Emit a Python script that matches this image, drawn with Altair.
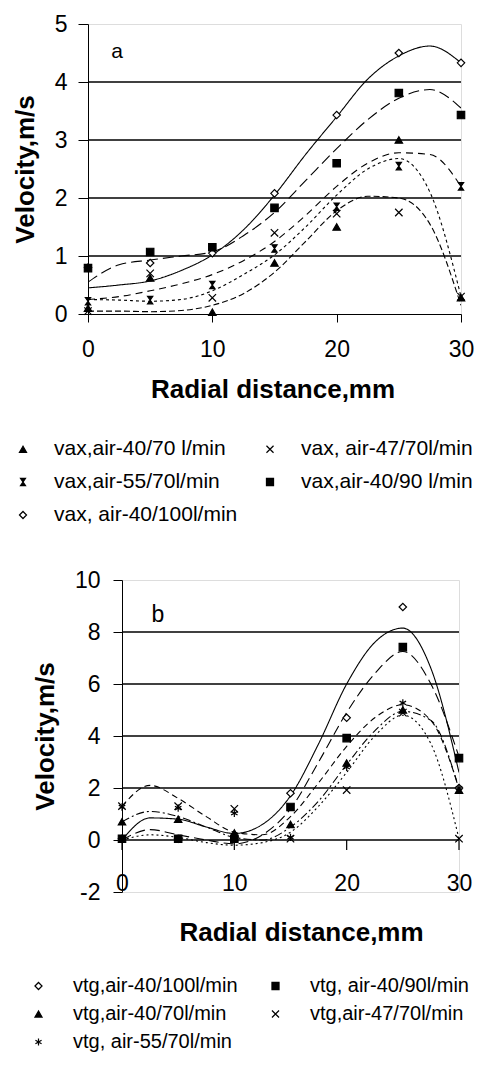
import altair as alt
import pandas as pd

# ---------------- data ----------------
x_pts = [0, 5, 10, 15, 20, 25, 30]
x_fit = [0, 2.5, 5, 7.5, 10, 12.5, 15, 17.5, 20, 22.5, 25, 27.5, 30]

# panel a (axial velocity); legend order is column-major (2 columns)
names_a = ["vax,air-40/70 l/min", "vax,air-55/70l/min", "vax, air-40/100l/min",
           "vax, air-47/70l/min", "vax,air-40/90 l/min"]
a_40_70 = [0.10, 0.62, 0.03, 0.88, 1.50, 3.00, 0.28]
a_55_70 = [0.22, 0.24, 0.50, 1.13, 1.85, 2.55, 2.20]
a_40_100 = [0.80, 0.88, 1.05, 2.08, 3.43, 4.50, 4.33]
a_47_70 = [0.05, 0.70, 0.28, 1.40, 1.73, 1.75, 0.30]
a_40_90 = [0.79, 1.07, 1.15, 1.83, 2.60, 3.81, 3.43]

fa_40_70 = [0.25, 0.24, 0.22, 0.25, 0.40, 0.68, 1.02, 1.50, 2.05, 2.50, 2.68, 2.10, 0.30]
fa_55_70 = [0.25, 0.30, 0.40, 0.52, 0.68, 0.92, 1.25, 1.70, 2.20, 2.60, 2.78, 2.75, 2.20]
fa_40_100 = [0.45, 0.50, 0.57, 0.75, 1.02, 1.45, 2.05, 2.75, 3.40, 4.05, 4.45, 4.62, 4.33]
fa_47_70 = [0.05, 0.05, 0.04, 0.06, 0.15, 0.35, 0.72, 1.25, 1.78, 2.03, 2.00, 1.55, 0.15]
fa_40_90 = [0.55, 0.85, 0.93, 1.00, 1.07, 1.35, 1.75, 2.30, 2.85, 3.35, 3.72, 3.87, 3.55]

# panel b (tangential velocity); legend order is column-major (2 columns)
names_b = ["vtg,air-40/100l/min", "vtg,air-40/70l/min", "vtg, air-55/70l/min",
           "vtg, air-40/90l/min", "vtg,air-47/70l/min"]
b_40_100 = [0.05, 0.05, 0.10, 1.80, 4.70, 8.96, 2.00]
b_40_70 = [0.70, 0.80, 0.27, 0.60, 2.96, 5.00, 1.92]
b_55_70 = [1.27, 1.23, 1.03, 0.10, 2.80, 5.27, 2.00]
b_40_90 = [0.05, 0.05, 0.05, 1.27, 3.92, 7.42, 3.15]
b_47_70 = [1.30, 1.30, 1.20, 0.05, 1.92, 4.90, 0.05]

fb_40_100 = [0.00, 0.85, 0.80, 0.50, 0.25, 0.60, 1.70, 3.70, 6.00, 7.60, 8.15, 6.60, 2.60]
fb_40_70 = [0.70, 1.10, 0.90, 0.50, 0.10, 0.00, 0.50, 1.50, 2.90, 4.20, 4.95, 4.60, 1.95]
fb_55_70 = [1.30, 2.10, 1.60, 0.90, 0.30, 0.20, 0.90, 2.20, 3.60, 4.70, 5.20, 4.60, 2.00]
fb_40_90 = [0.00, 0.40, 0.20, 0.00, -0.15, 0.20, 1.20, 3.00, 4.90, 6.40, 7.25, 6.00, 3.20]
fb_47_70 = [0.00, 0.20, 0.10, -0.10, -0.20, -0.10, 0.30, 1.30, 2.60, 4.00, 4.80, 3.70, 0.05]

x_ticks = [0, 10, 20, 30]
y_ticks_a = [0, 1, 2, 3, 4, 5]
y_ticks_b = [-2, 0, 2, 4, 6, 8, 10]
grid_a = [1, 2, 3, 4]
grid_b = [0, 2, 4, 6, 8]
panel_letters = ["a", "b"]
letter_x = [2.33, 3.2]
letter_y = [4.52, 8.65]


def long(names, arrays, xs):
    rows = []
    for n, arr in zip(names, arrays):
        for xv, yv in zip(xs, arr):
            rows.append({"x": xv, "v": yv, "series": n})
    return pd.DataFrame(rows)

pts_a = long(names_a, [a_40_70, a_55_70, a_40_100, a_47_70, a_40_90], x_pts)
fit_a = long(names_a, [fa_40_70, fa_55_70, fa_40_100, fa_47_70, fa_40_90], x_fit)
pts_b = long(names_b, [b_40_100, b_40_70, b_55_70, b_40_90, b_47_70], x_pts)
fit_b = long(names_b, [fb_40_100, fb_40_70, fb_55_70, fb_40_90, fb_47_70], x_fit)

FONT = "Liberation Sans"
TRI = "triangle-up"
XS = "M-1,-1L1,1M1,-1L-1,1"
HG = "M-0.7,-1L0.7,-1L-0.7,1L0.7,1Z"
SQ = "square"
DI = "diamond"
STAR = "M0,-1L0,1M-0.87,-0.5L0.87,0.5M-0.87,0.5L0.87,-0.5"

W_A, H_A = 373, 290
W_B, H_B = 337, 312


def panel(pts, fit, names, shapes, fills, dashes, ydom, grid, xaxis, yaxis,
          legend, letter_idx, letter_size, w, h, extra=None):
    X = alt.X("x:Q", scale=alt.Scale(domain=[0, 30], nice=False, zero=False), axis=xaxis)
    Y = alt.Y("v:Q", scale=alt.Scale(domain=ydom, nice=False, zero=False), axis=yaxis)
    layers = [alt.Chart(pd.DataFrame({"v": grid})).mark_rule(
        color="black", strokeWidth=1.3).encode(y=Y)]
    for n, d in zip(names, dashes):
        layers.append(alt.Chart(fit[fit["series"] == n]).mark_line(
            color="black", strokeWidth=1.1, interpolate="monotone", clip=True,
            strokeDash=d).encode(x=X, y=Y))
    layers.append(alt.Chart(pts).mark_point(filled=True, size=55, opacity=1, strokeWidth=1.2,
                                            stroke="black").encode(
        x=X, y=Y,
        shape=alt.Shape("series:N", scale=alt.Scale(domain=names, range=shapes), legend=legend),
        fill=alt.Fill("series:N", scale=alt.Scale(domain=names, range=fills), legend=legend),
        stroke=alt.Stroke("series:N", scale=alt.Scale(domain=names, range=["black"] * 5),
                          legend=legend)))
    layers.append(alt.Chart(pd.DataFrame({"x": [letter_x[letter_idx]],
                                          "v": [letter_y[letter_idx]],
                                          "t": [panel_letters[letter_idx]]})).mark_text(
        font=FONT, fontSize=letter_size, color="black").encode(x=X, y=Y, text="t:N"))
    if extra is not None:
        layers.append(extra(X, Y))
    return alt.layer(*layers).properties(width=w, height=h)


def mk_legend(lx, ly, colpad, rowpad, loff, fs):
    return alt.Legend(title=None, orient="none", legendX=lx, legendY=ly, columns=2,
                      columnPadding=colpad, rowPadding=rowpad, labelFontSize=fs,
                      labelFont=FONT, labelColor="black", labelOffset=loff, symbolSize=50,
                      symbolStrokeWidth=1.2, labelLimit=400, padding=0)


axis_common = dict(domainColor="black", tickColor="black", labelColor="black",
                   labelFont=FONT, labelFontSize=23, titleFont=FONT, titleFontSize=26,
                   titleFontWeight="bold", titleColor="black", grid=False,
                   labelOverlap=False,
                   labelExpr="datum.value < 0 ? '-' + abs(datum.value) : '' + datum.value")

xaxis_a = alt.Axis(values=x_ticks, tickSize=8, labelPadding=16, labelFlush=False,
                   title="Radial distance,mm", titleX=184.5, titleY=83,
                   titleBaseline="alphabetic", titleAlign="center", **axis_common)
yaxis_a = alt.Axis(values=y_ticks_a, tickSize=10, labelPadding=11,
                   title="Velocity,m/s", titleX=-55, titleY=H_A / 2, titleAngle=-90,
                   titleBaseline="alphabetic", titleAlign="center", **axis_common)

xaxis_b = alt.Axis(values=x_ticks, domain=False, ticks=False, tickSize=0, labelPadding=-2,
                   labelBaseline="alphabetic", labelFlush=False,
                   title="Radial distance,mm", titleX=179, titleY=48,
                   titleBaseline="alphabetic", titleAlign="center", **axis_common)
yaxis_b = alt.Axis(values=y_ticks_b, tickSize=9, labelPadding=13,
                   title="Velocity,m/s", titleX=-69, titleY=H_B / 2, titleAngle=-90,
                   titleBaseline="alphabetic", titleAlign="center", **axis_common)


def zero_ticks(X, Y):
    return alt.Chart(pd.DataFrame({"x": x_ticks, "v": [0] * len(x_ticks)})).mark_tick(
        orient="vertical", color="black", size=10, thickness=1.2, yOffset=5, opacity=1
    ).encode(x=X, y=Y)


fills_a = ["black", "black", "white", "transparent", "black"]
fills_b = ["white", "black", "transparent", "black", "transparent"]

panel_a = panel(pts_a, fit_a, names_a, [TRI, HG, DI, XS, SQ], fills_a,
                [[3, 3], [7, 5], [1, 0], [6, 3], [11, 5]],
                [0, 5], grid_a, xaxis_a, yaxis_a,
                mk_legend(-75.5, 414.5, 22, 11, 20.5, 21), 0, 21, W_A, H_A)

panel_b = panel(pts_b, fit_b, names_b, [DI, TRI, STAR, SQ, XS], fills_b,
                [[1, 0], [8, 3, 2, 3], [6, 4], [10, 5], [2, 3]],
                [-2, 10], grid_b, xaxis_b, yaxis_b,
                mk_legend(-93.5, 396, 27, 8, 24.5, 20), 1, 23, W_B, H_B,
                extra=zero_ticks)

spacer = alt.Chart(pd.DataFrame({"s": [0]})).mark_point(opacity=0).encode(
    x=alt.X("s:Q", axis=None), y=alt.Y("s:Q", axis=None)
).properties(width=1, height=H_B, view=alt.ViewBackground(stroke="transparent"))

row_b = alt.hconcat(spacer, panel_b, spacing=33, bounds="flush").resolve_scale(
    shape="independent", fill="independent", stroke="independent")

chart = alt.vconcat(panel_a, row_b, spacing=266, bounds="flush").resolve_scale(
    shape="independent", fill="independent", stroke="independent"
).properties(
    autosize=alt.AutoSizeParams(type="none"),
    padding={"left": 80, "top": 16, "right": 389, "bottom": 1034}
).configure_view(stroke="#a0a0a0", strokeWidth=1).configure(background="white")

chart.save("out.html", embed_options={"renderer": "svg", "actions": False})
